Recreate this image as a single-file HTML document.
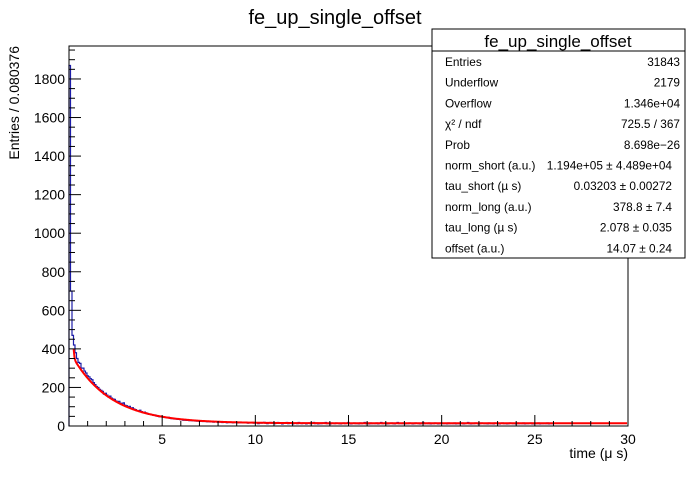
<!DOCTYPE html>
<html><head><meta charset="utf-8"><style>
body{margin:0;background:#fff;font-family:"Liberation Sans",sans-serif}
svg text{font-family:"Liberation Sans",sans-serif}
</style></head><body>
<svg width="698" height="474" viewBox="0 0 698 474" xmlns="http://www.w3.org/2000/svg">
<rect width="698" height="474" fill="#fff"/>
<text x="335" y="24" font-size="20" text-anchor="middle">fe_up_single_offset</text>
<g id="plot"></g>
<rect x="69" y="46" width="559" height="380" fill="none" stroke="#000" stroke-width="1"/>
<text transform="translate(19,46) rotate(-90)" font-size="14" text-anchor="end">Entries / 0.080376</text>
<text x="628" y="458" font-size="14" text-anchor="end">time (μ s)</text>
<g>
<rect x="432" y="29" width="253" height="229" fill="#fff" stroke="#000"/>
<line x1="432" y1="51" x2="685" y2="51" stroke="#000"/>
<text x="558" y="47" font-size="17" text-anchor="middle">fe_up_single_offset</text>
<g id="stats" font-size="11.8"></g>
</g>
</svg>
<script>
const binWidth = 0.080376;
const counts = [1870,700,470,420,380,350,330,325,300,300,285,275,260,255,245,240,225,215,205,200,190,
185,180,165,170,160,150,155,145,140,138,130,125,128,118,115,120,108,105,100,102,
92,95,88,85,80,78,82,75,70,72,68,65,60,62,58,55,57,52,50,48,
50,47,45,44,42,45,40,38,40,36,37,35,34,33,32,30,31,29,30,28,
29,27,28,26,25,26,24,25,23,24,23,22,24,21,22,20,21,22,19,21,
20,18,19,21,17,19,18,20,17,18,19,16,18,17,19,16,17,18,15,17,
16,18,15,17,16,12,17,15,16,19,15,12,16,18,15,16,12,15,18,16,
15,11,16,15,18,12,15,16,11,15,16,12,18,15,12,16,15,11,15,16,
12,15,18,12,16,11,15,12,16,15,18,12,15,11,16,15,12,16,15,12,
11,15,16,12,15,18,12,11,15,16,12,15,11,16,12,15,18,12,15,11,
16,12,15,12,16,11,15,18,12,15,16,11,12,15,16,12,11,15,18,12,
15,12,16,11,15,12,16,15,11,12,16,15,12,11,15,18,12,15,12,16,
11,15,12,16,15,11,12,16,15,12,15,11,16,12,15,12,16,11,15,12,
15,16,11,12,15,18,12,11,15,12,16,15,11,12,16,15,12,15,11,16,
12,15,11,16,15,12,11,15,16,12,15,11,12,16,15,12,15,11,16,12,
15,12,16,11,15,12,15,16,11,12,15,12,16,11,15,12,15,12,16,11,15,12,15];
const fitParams = [119400, 0.03203, 378.8, 2.078, 14.07];
const fitRange = [0.25, 30];
const xTicks = [5,10,15,20,25,30];
const yTicks = [0,200,400,600,800,1000,1200,1400,1600,1800];
const statLabels = ["Entries","Underflow","Overflow","χ² / ndf","Prob","norm_short (a.u.)","tau_short (µ s)","norm_long (a.u.)","tau_long (µ s)","offset (a.u.)"];
const statValues = ["31843","2179","1.346e+04","725.5 / 367","8.698e−26","1.194e+05 ± 4.489e+04","0.03203 ± 0.00272","378.8 ± 7.4","2.078 ± 0.035","14.07 ± 0.24"];

const NS="http://www.w3.org/2000/svg";
const X0=69,X1=628,Y0=426,Y1=46,XMIN=0,XMAX=30,YMIN=0,YMAX=1971;
const sx=v=>X0+(v-XMIN)/(XMAX-XMIN)*(X1-X0);
const sy=v=>Y0-(v-YMIN)/(YMAX-YMIN)*(Y0-Y1);
const g=document.getElementById('plot');
function mk(tag,at){const e=document.createElementNS(NS,tag);for(const k in at)e.setAttribute(k,at[k]);return e;}

let d=`M${sx(0)},${sy(0)}`;
counts.forEach((c,i)=>{const a=Math.min(i*binWidth,XMAX),b=Math.min((i+1)*binWidth,XMAX);d+=` L${sx(a)},${sy(Math.min(c,YMAX))} L${sx(b)},${sy(Math.min(c,YMAX))}`;});
const h=mk('path',{d:d,fill:'none',stroke:'#1c1ca8','stroke-width':1.2});


g.appendChild(h);

const f=t=>fitParams[0]*Math.exp(-t/fitParams[1])+fitParams[2]*Math.exp(-t/fitParams[3])+fitParams[4];
let fd='';
for(let t=fitRange[0];t<=fitRange[1];t+=0.05){fd+=(fd?' L':'M')+sx(t)+','+sy(f(t));}
const fl=mk('path',{d:fd,fill:'none',stroke:'#ff0000','stroke-width':2});


g.appendChild(fl);

for(let v=0;v<=YMAX;v+=50){const maj=v%200===0;const t=mk('line',{x1:X0,x2:X0+(maj?12:6),y1:sy(v),y2:sy(v),stroke:'#000'});


g.appendChild(t);}
yTicks.forEach(v=>{const t=mk('text',{x:X0-4,y:sy(v)+5,'font-size':14,'text-anchor':'end'});t.textContent=v;


g.appendChild(t);});
for(let v=1;v<=XMAX;v+=1){const maj=v%5===0;const t=mk('line',{x1:sx(v),x2:sx(v),y1:Y0,y2:Y0-(maj?11:5),stroke:'#000'});


g.appendChild(t);}
xTicks.forEach(v=>{const t=mk('text',{x:sx(v),y:Y0+18,'font-size':14,'text-anchor':'middle'});t.textContent=v;


g.appendChild(t);});

const st=document.getElementById('stats');
statLabels.forEach((l,i)=>{const y=66+i*20.7;
const a=mk('text',{x:445,y:y});a.textContent=l;


st.appendChild(a);
const b=mk('text',{x:(i>=5?672:680),y:y,'text-anchor':'end'});b.textContent=statValues[i];


st.appendChild(b);});
</script>
</body></html>
